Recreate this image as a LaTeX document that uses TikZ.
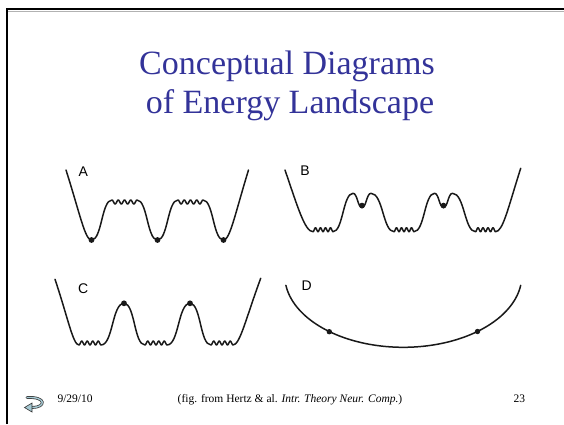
\documentclass[tikz,border=0pt]{standalone}
\usepackage{fontspec}
\setmainfont{Liberation Serif}
\newfontfamily\panelfont{Liberation Sans}
\definecolor{titleblue}{RGB}{51, 51, 153}
\definecolor{iconblue}{RGB}{165, 200, 210}
\definecolor{curvegray}{RGB}{25, 25, 25}
\usetikzlibrary{arrows.meta}

\begin{document}
\begin{tikzpicture}[x=1pt, y=-1pt,
    curve/.style={curvegray, line width=1.5pt, line join=round, line cap=round},
    ball/.style={fill=curvegray},
    panel/.style={font=\panelfont\fontsize{14}{16}\selectfont},
    foot/.style={font=\fontsize{11.5}{13}\selectfont, anchor=base}]
                    \useasboundingbox (0, 0) rectangle (564, 424);
                    \draw[gray!60, line width=1pt] (8, 11) -- (564, 11);
                    \draw[line width=2.2pt] (7, 424) -- (7, 9) -- (564, 9);
                    \node[font=\fontsize{34}{39}\selectfont, text=titleblue, anchor=base] (title1) at (287, 74) {Conceptual Diagrams};
                    \node[font=\fontsize{34}{39}\selectfont, text=titleblue, anchor=base] (title2) at (290, 113) {of Energy Landscape};
                    % A
                    \draw[curve] (66, 170) .. controls (80, 214) and (85, 240) .. (91.5, 240)
                        .. controls (102, 240) and (101.5, 200) .. (112, 200)
                        -- plot[domain=0:1, samples=41] ({112+25*\x}, {200+2*(1-cos(1440*\x))})
                        .. controls (147.5, 200) and (147, 240) .. (157.5, 240)
                        .. controls (168, 240) and (167.5, 200) .. (178, 200)
                        -- plot[domain=0:1, samples=41] ({178+25*\x}, {200+2*(1-cos(1440*\x))})
                        .. controls (213.5, 200) and (213, 240) .. (223.5, 240)
                        .. controls (230, 240) and (235, 214) .. (248.5, 170);
                    \fill[ball] (91.5, 240) circle (2.9) (157.5, 240) circle (2.9) (223.5, 240) circle (2.9);
                    \node[panel] (labA) at (83.3, 171.7) {A};
                    % B
                    \draw[curve] (285, 170) .. controls (298, 208) and (305, 231.7) .. (313, 231.7)
                        -- plot[domain=0:1, samples=41] ({313+20*\x}, {231.7-2*(1-cos(1440*\x))})
                        .. controls (343, 231.7) and (343, 193.3) .. (353, 193.3)
                        .. controls (357.5, 193.3) and (357.5, 207.3) .. (362, 207.3)
                        .. controls (366.5, 207.3) and (366.5, 193.3) .. (371, 193.3)
                        .. controls (383, 193.3) and (383, 231.7) .. (394, 231.7)
                        -- plot[domain=0:1, samples=41] ({394+20*\x}, {231.7-2*(1-cos(1440*\x))})
                        .. controls (424.5, 231.7) and (424.5, 193.3) .. (434.5, 193.3)
                        .. controls (439, 193.3) and (439, 207.3) .. (443.5, 207.3)
                        .. controls (448, 207.3) and (448, 193.3) .. (452.5, 193.3)
                        .. controls (464.5, 193.3) and (464.5, 231.7) .. (475.5, 231.7)
                        -- plot[domain=0:1, samples=41] ({475.5+20*\x}, {231.7-2*(1-cos(1440*\x))})
                        .. controls (503, 231.7) and (508, 208) .. (520.7, 168.3);
                    \fill[ball] (362, 205.6) circle (2.9) (443.5, 205.6) circle (2.9);
                    \node[panel] (labB) at (305, 170.7) {B};
                    % C
                    \draw[curve] (55, 279.3) .. controls (68, 318) and (73, 345) .. (79, 345)
                        -- plot[domain=0:1, samples=41] ({79+22*\x}, {345-2*(1-cos(1440*\x))})
                        .. controls (113, 345) and (112, 303.3) .. (124, 303.3)
                        .. controls (135, 303.3) and (134, 345) .. (145, 345)
                        -- plot[domain=0:1, samples=41] ({145+22*\x}, {345-2*(1-cos(1440*\x))})
                        .. controls (179, 345) and (178, 303.3) .. (190, 303.3)
                        .. controls (201, 303.3) and (200, 345) .. (211, 345)
                        -- plot[domain=0:1, samples=41] ({211+22*\x}, {345-2*(1-cos(1440*\x))})
                        .. controls (240, 345) and (246, 318) .. (260.7, 278.3);
                    \fill[ball] (124, 303.3) circle (2.9) (190, 303.3) circle (2.9);
                    \node[panel] (labC) at (83.3, 288.3) {C};
                    % D
                    \draw[curve] plot[domain=-82:82, samples=81] ({403.3+118.55*sin(\x)}, {275.3+72*cos(\x)});
                    \fill[ball] (329.3, 331.7) circle (2.7) (477.5, 331.5) circle (2.7);
                    \node[panel] (labD) at (306.7, 286) {D};
                    % footer
                    \draw[black!80, line width=2.8pt, line cap=round] (27, 397.5) .. controls (47, 396.5) and (46, 407.5) .. (32, 407.5);
                    \draw[iconblue, line width=1.4pt, line cap=round] (27, 397.5) .. controls (47, 396.5) and (46, 407.5) .. (32, 407.5);
                    \filldraw[fill=iconblue, draw=black!80, line width=0.6pt] (24.5, 407.5) -- (32, 403) -- (32, 412) -- cycle;
                    \node[foot, anchor=base west] (date) at (54, 402) {9/29/10};
                    \node[foot] (cite) at (290, 402) {(fig. from Hertz \& al. \textit{Intr. Theory Neur. Comp.})};
                    \node[foot, anchor=base west] (page) at (510, 402) {23};
                \end{tikzpicture}
\end{document}
